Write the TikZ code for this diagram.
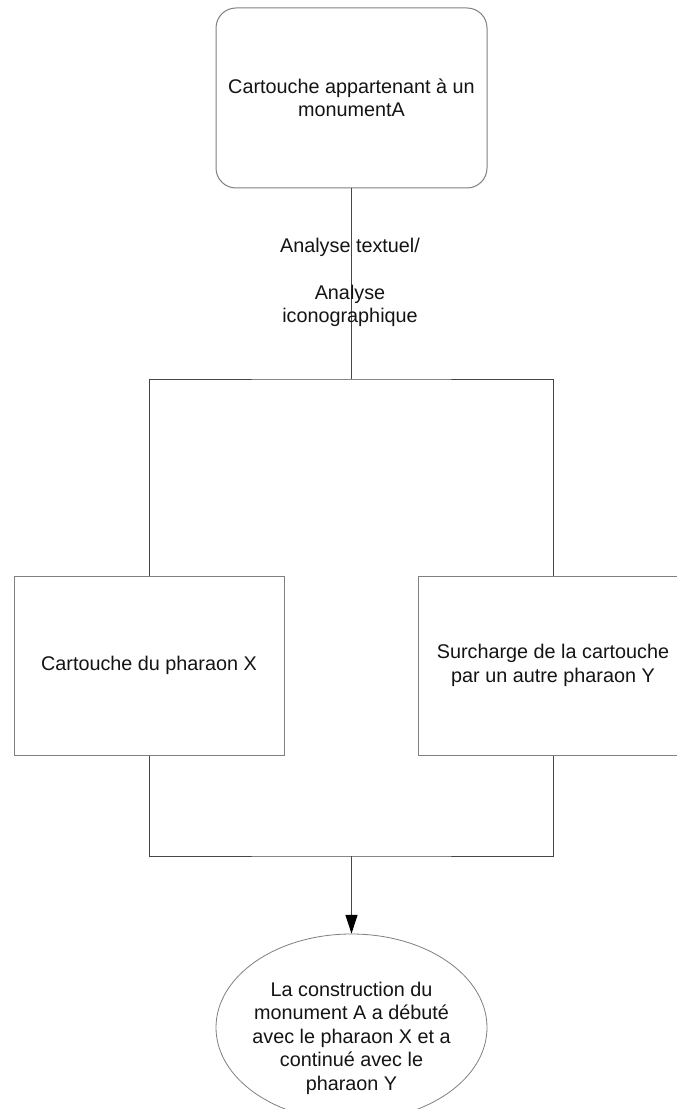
\documentclass[tikz,border=0pt]{standalone}
\usepackage{fontspec}
\setmainfont{Liberation Sans}
\usetikzlibrary{shapes.geometric,arrows.meta}
\definecolor{edgegray}{RGB}{128,128,128}
\definecolor{linkgray}{RGB}{70,70,70}
\definecolor{inkblack}{RGB}{20,20,20}
\begin{document}
\begin{tikzpicture}[x=0.75pt,y=-0.75pt,
  every node/.style={font=\fontsize{14.85pt}{17.6pt}\selectfont, text=inkblack, align=center},
  roundbox/.style={draw=edgegray, line width=0.75pt, rounded corners=15pt,
    minimum width=203.25pt, minimum height=135pt, inner sep=0pt},
  squarebox/.style={draw=edgegray, line width=0.75pt,
    minimum width=202.5pt, minimum height=134.25pt, inner sep=0pt},
  oval/.style={draw=edgegray, line width=0.6pt, ellipse,
    minimum width=203.25pt, minimum height=140.25pt, inner sep=0pt},
  link/.style={draw=linkgray, line width=0.75pt},
  arrowlink/.style={link, -{Triangle[width=9pt,length=14pt,color=black,fill=black]}}
]
\useasboundingbox (0,0) rectangle (677,1109);
\fill[white] (0,0) rectangle (677,1109);

% boxes
\node[roundbox] (monument) at (351.5,98) {Cartouche appartenant à un\\monumentA};
\node[squarebox] (pharaonX) at (149,665.5) {Cartouche du pharaon X};
\node[squarebox] (pharaonY) at (553,665.5) {Surcharge de la cartouche\\par un autre pharaon Y};
\node[oval] (result) at (351.5,1027.5) {};
\node (resulttext) at (351.5,1038) {La construction du\\monument A a débuté\\avec le pharaon X et a\\continué avec le\\pharaon Y};

% branching points
\coordinate (fork) at (351.5,379);
\coordinate (join) at (351.5,856);

% connectors
\draw[link] (monument.south) -- (fork);
\draw[link] (pharaonX.north) |- (fork) -| (pharaonY.north);
\draw[link] (pharaonX.south) |- (join) -| (pharaonY.south);
\draw[arrowlink] (join) -- (result.north);

% method label across the top connector
\node (method) at (350,282.5) {Analyse textuel/\\[17.6pt]Analyse\\iconographique};
\end{tikzpicture}
\end{document}
